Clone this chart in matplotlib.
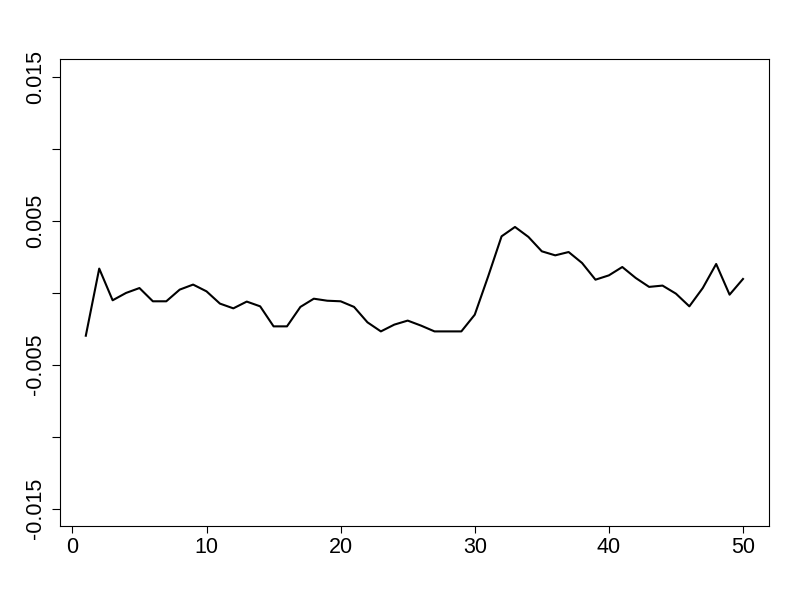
import matplotlib
matplotlib.use('Agg')
import matplotlib.pyplot as plt
import numpy as np

plt.rcParams['font.family'] = ['Liberation Sans', 'DejaVu Sans']

# index 1..50 and the series
x_index = np.arange(1, 51)
values = [
    -0.00299, 0.00167, -0.00053, -0.00002, 0.00032, -0.00060, -0.00060, 0.00021, 0.00056, 0.00009,
    -0.00076, -0.00109, -0.00062, -0.00095, -0.00234, -0.00234, -0.00099, -0.00042, -0.00056, -0.00060,
    -0.00099, -0.00206, -0.00269, -0.00222, -0.00194, -0.00229, -0.00269, -0.00269, -0.00269, -0.00153,
    0.00113, 0.00391, 0.00456, 0.00387, 0.00287, 0.00259, 0.00282, 0.00206, 0.00090, 0.00120,
    0.00178, 0.00102, 0.00040, 0.00049, -0.00007, -0.00095, 0.00032, 0.00199, -0.00014, 0.00095,
]
x_ticks = [0, 10, 20, 30, 40, 50]
y_ticks = [-0.015, -0.010, -0.005, 0.0, 0.005, 0.010, 0.015]
y_tick_labels = ['-0.015', '', '-0.005', '', '0.005', '', '0.015']

fig = plt.figure(figsize=(8, 6), dpi=100)
ax = fig.add_axes([0.0744, 0.1233, 0.8872, 0.7779])

ax.plot(x_index, values, color='black', linewidth=1.5)

# R style ranges: 4% padding
ax.set_xlim(1 - 0.04 * 49, 50 + 0.04 * 49)
ax.set_ylim(-0.015 - 0.0012, 0.015 + 0.0012)

ax.set_xticks(x_ticks)
ax.set_xticklabels([str(t) for t in x_ticks], fontsize=15.5)
ax.set_yticks(y_ticks)
ax.set_yticklabels(y_tick_labels, fontsize=15.5, rotation=90, va='center')

ax.tick_params(axis='x', length=5, width=0.8, pad=3)
ax.tick_params(axis='y', length=6, width=0.8, pad=4)
for spine in ax.spines.values():
    spine.set_linewidth(0.8)

fig.savefig('out.png', dpi=100)
plt.close(fig)
